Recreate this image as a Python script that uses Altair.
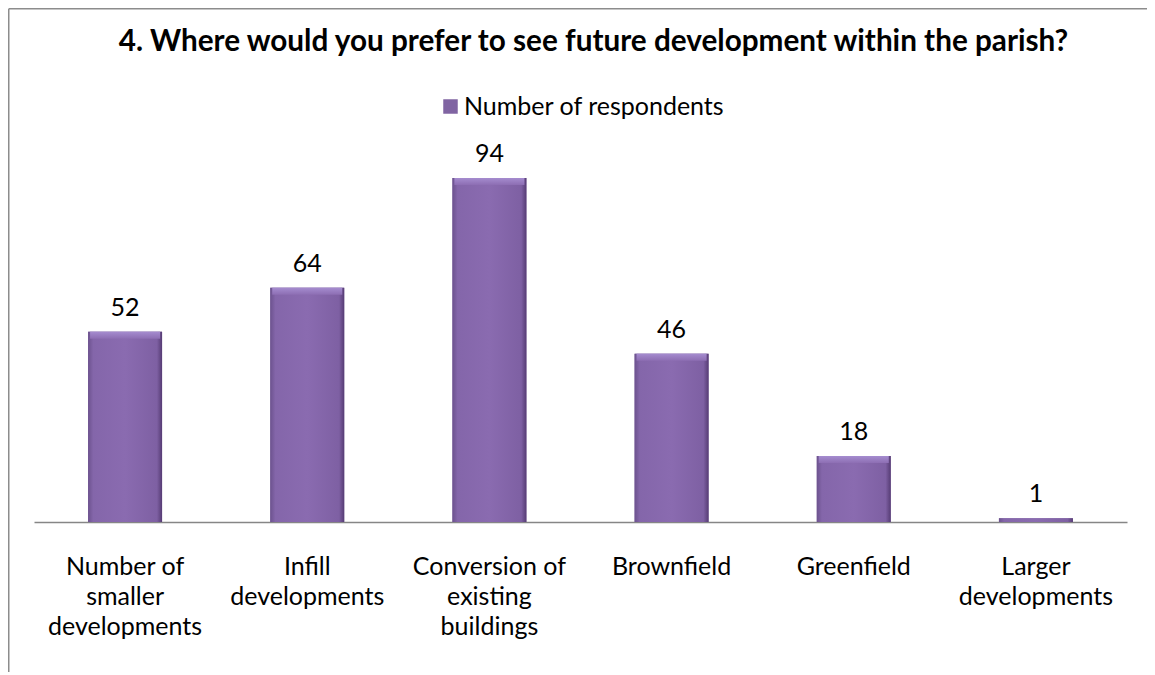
import altair as alt
import pandas as pd

categories = [
    "Number of\nsmaller\ndevelopments",
    "Infill\ndevelopments",
    "Conversion of\nexisting\nbuildings",
    "Brownfield",
    "Greenfield",
    "Larger\ndevelopments",
]
values = [52, 64, 94, 46, 18, 1]
series_name = "Number of respondents"
title_text = "4. Where would you prefer to see future development within the parish?"

FONT = "Lato"
df = pd.DataFrame({"category": categories, "value": values, "series": series_name})

x_enc = alt.X(
    "category:N",
    sort=categories,
    scale=alt.Scale(paddingInner=0.594, paddingOuter=0.297),
    axis=alt.Axis(
        title=None, labelAngle=0, ticks=False, domainColor="#868686", domainWidth=1.5,
        labelFont=FONT, labelFontSize=25, labelColor="#000000", labelPadding=32,
        labelLineHeight=30, labelLimit=400, labelExpr="split(datum.label, '\\n')",
    ),
)
y_enc = alt.Y("value:Q", scale=alt.Scale(domain=[0, 100]), axis=None)

base = alt.Chart(df)

bars_legend = base.mark_bar().encode(
    x=x_enc, y=y_enc,
    color=alt.Color(
        "series:N",
        scale=alt.Scale(domain=[series_name], range=["#8064A2"]),
        legend=alt.Legend(
            title=None, orient="none", legendX=404, legendY=-62, symbolType="square",
            symbolSize=210, symbolStrokeWidth=0, labelFont=FONT, labelFontSize=25,
            labelColor="#000000", labelOffset=1, padding=0, labelLimit=500,
        ),
    ),
)

body_grad = alt.LinearGradient(
    gradient="linear", x1=0, x2=1, y1=0, y2=0,
    stops=[
        alt.GradientStop(color="#6C528E", offset=0),
        alt.GradientStop(color="#8466AA", offset=0.07),
        alt.GradientStop(color="#8A6BB0", offset=0.5),
        alt.GradientStop(color="#7E60A3", offset=0.93),
        alt.GradientStop(color="#563C74", offset=1),
    ],
)
bars_grad = base.mark_bar(fill=body_grad).encode(x=x_enc, y=y_enc)

bevel_grad = alt.LinearGradient(
    gradient="linear", x1=0, x2=0, y1=0, y2=1,
    stops=[
        alt.GradientStop(color="#A58CCF", offset=0),
        alt.GradientStop(color="#8D6EB3", offset=1),
    ],
)
bevel = base.transform_filter("datum.value >= 5").mark_tick(
    fill=bevel_grad, thickness=7, size=70, yOffset=3.5, opacity=1
).encode(x=x_enc, y=y_enc)

labels = base.mark_text(
    font=FONT, fontSize=25, color="#000000", baseline="alphabetic", dy=-16
).encode(x=x_enc, y=y_enc, text="value:Q")

frame_df = pd.DataFrame({"k": [0]})
frame_left = alt.Chart(frame_df).mark_rule(color="#8C8C8C", strokeWidth=1.5).encode(
    x=alt.value(-25.25), y=alt.value(-147.25), y2=alt.value(560)
)
frame_top = alt.Chart(frame_df).mark_rule(color="#8C8C8C", strokeWidth=1.5).encode(
    x=alt.value(-25.25), x2=alt.value(1115), y=alt.value(-147.25)
)

chart = alt.layer(frame_left, frame_top, bars_legend, bars_grad, bevel, labels).properties(
    width=1093,
    height=366,
    padding={"left": 26, "top": 148, "right": 20, "bottom": 150},
    autosize=alt.AutoSizeParams(type="none"),
    title=alt.TitleParams(
        text=title_text, font=FONT, fontSize=29.7, fontWeight="bold", color="#000000",
        anchor="middle", frame="group", dx=13, offset=-50,
    ),
).configure_view(stroke=None)

chart.save("out.html", embed_options={"renderer": "svg", "actions": False})
